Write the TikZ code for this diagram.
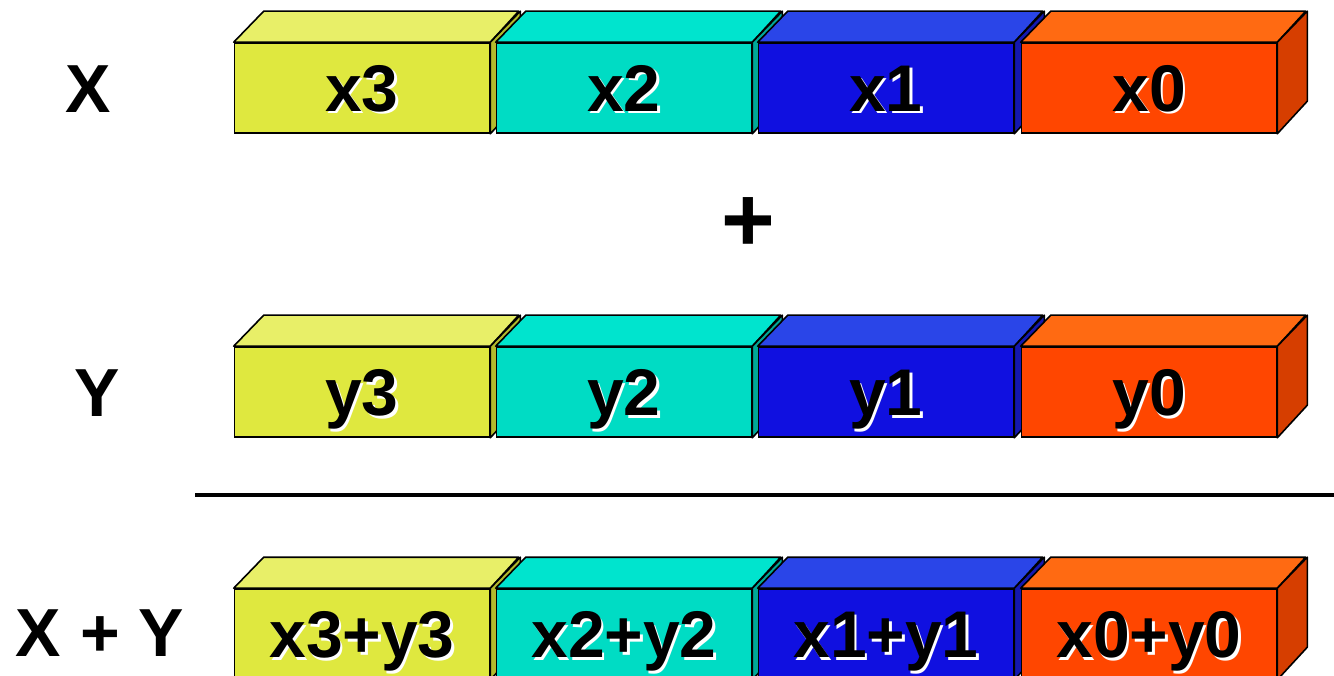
\documentclass[tikz,border=0pt]{standalone}
\usepackage{fontspec}
\setmainfont{Liberation Sans}
\usepackage{tikz}

% colours of the four lanes
\definecolor{yelfront}{HTML}{DFE83F}
\definecolor{yeltop}{HTML}{E8EF68}
\definecolor{yelside}{HTML}{B3BA2C}
\definecolor{cyafront}{HTML}{00DCC4}
\definecolor{cyatop}{HTML}{00E4CE}
\definecolor{cyaside}{HTML}{00A898}
\definecolor{blufront}{HTML}{1010E0}
\definecolor{blutop}{HTML}{2A45E8}
\definecolor{bluside}{HTML}{1418B0}
\definecolor{orafront}{HTML}{FF4600}
\definecolor{oratop}{HTML}{FF6A12}
\definecolor{oraside}{HTML}{D63E00}

% text with a small white shadow
\newcommand{\bittext}[1]{\rlap{\kern2.5pt\raisebox{-2.5pt}{\color{white}#1}}#1}

\begin{document}
\begin{tikzpicture}[x=1pt,y=-1pt]
    % Node styles
    \tikzset{cell/.style={draw=black,line width=1.6pt,minimum width=255pt,minimum height=90pt,
               inner sep=0pt,text height=47pt,text depth=0pt,
               font=\bfseries\fontsize{66}{66}\selectfont},
             face/.style={line width=1.6pt,line join=round,draw=black},
             rowlabel/.style={font=\bfseries\fontsize{68}{68}\selectfont,inner sep=0pt,
               text height=49pt,text depth=0pt}}
    \useasboundingbox (0,0) rectangle (1334,676);

    % --- Row X ---
    \node[rowlabel] (lx) at (88,88) {X};
    \node[cell, fill=yelfront] (x3) at (362,88) {\bittext{x3}};
    \filldraw[face, fill=yeltop] (x3.north west) -- ++(30,-31) -- ++(255,0) -- (x3.north east) -- cycle;
    \filldraw[face, fill=yelside] (x3.north east) -- ++(30,-31) -- ++(0,90) -- (x3.south east) -- cycle;
    \node[cell, fill=cyafront] (x2) at (624,88) {\bittext{x2}};
    \filldraw[face, fill=cyatop] (x2.north west) -- ++(30,-31) -- ++(255,0) -- (x2.north east) -- cycle;
    \filldraw[face, fill=cyaside] (x2.north east) -- ++(30,-31) -- ++(0,90) -- (x2.south east) -- cycle;
    \node[cell, fill=blufront] (x1) at (886,88) {\bittext{x1}};
    \filldraw[face, fill=blutop] (x1.north west) -- ++(30,-31) -- ++(255,0) -- (x1.north east) -- cycle;
    \filldraw[face, fill=bluside] (x1.north east) -- ++(30,-31) -- ++(0,90) -- (x1.south east) -- cycle;
    \node[cell, fill=orafront] (x0) at (1149,88) {\bittext{x0}};
    \filldraw[face, fill=oratop] (x0.north west) -- ++(30,-31) -- ++(255,0) -- (x0.north east) -- cycle;
    \filldraw[face, fill=oraside] (x0.north east) -- ++(30,-31) -- ++(0,90) -- (x0.south east) -- cycle;

    % --- Plus sign ---
    \node[font=\bfseries\fontsize{92}{92}\selectfont,inner sep=0pt] (plus) at (748,226) {\bittext{+}};

    % --- Row Y ---
    \node[rowlabel] (ly) at (97,392) {Y};
    \node[cell, fill=yelfront] (y3) at (362,392) {\bittext{y3}};
    \filldraw[face, fill=yeltop] (y3.north west) -- ++(30,-31) -- ++(255,0) -- (y3.north east) -- cycle;
    \filldraw[face, fill=yelside] (y3.north east) -- ++(30,-31) -- ++(0,90) -- (y3.south east) -- cycle;
    \node[cell, fill=cyafront] (y2) at (624,392) {\bittext{y2}};
    \filldraw[face, fill=cyatop] (y2.north west) -- ++(30,-31) -- ++(255,0) -- (y2.north east) -- cycle;
    \filldraw[face, fill=cyaside] (y2.north east) -- ++(30,-31) -- ++(0,90) -- (y2.south east) -- cycle;
    \node[cell, fill=blufront] (y1) at (886,392) {\bittext{y1}};
    \filldraw[face, fill=blutop] (y1.north west) -- ++(30,-31) -- ++(255,0) -- (y1.north east) -- cycle;
    \filldraw[face, fill=bluside] (y1.north east) -- ++(30,-31) -- ++(0,90) -- (y1.south east) -- cycle;
    \node[cell, fill=orafront] (y0) at (1149,392) {\bittext{y0}};
    \filldraw[face, fill=oratop] (y0.north west) -- ++(30,-31) -- ++(255,0) -- (y0.north east) -- cycle;
    \filldraw[face, fill=oraside] (y0.north east) -- ++(30,-31) -- ++(0,90) -- (y0.south east) -- cycle;

    % --- Sum line ---
    \coordinate (linel) at (195,495);
    \coordinate (liner) at (1340,495);
    \draw[line width=4pt] (linel) -- (liner);

    % --- Row X + Y ---
    \node[rowlabel] (lsum) at (100,632) {X + Y};
    \node[cell, fill=yelfront] (s3) at (362,634) {\bittext{x3+y3}};
    \filldraw[face, fill=yeltop] (s3.north west) -- ++(30,-31) -- ++(255,0) -- (s3.north east) -- cycle;
    \filldraw[face, fill=yelside] (s3.north east) -- ++(30,-31) -- ++(0,90) -- (s3.south east) -- cycle;
    \node[cell, fill=cyafront] (s2) at (624,634) {\bittext{x2+y2}};
    \filldraw[face, fill=cyatop] (s2.north west) -- ++(30,-31) -- ++(255,0) -- (s2.north east) -- cycle;
    \filldraw[face, fill=cyaside] (s2.north east) -- ++(30,-31) -- ++(0,90) -- (s2.south east) -- cycle;
    \node[cell, fill=blufront] (s1) at (886,634) {\bittext{x1+y1}};
    \filldraw[face, fill=blutop] (s1.north west) -- ++(30,-31) -- ++(255,0) -- (s1.north east) -- cycle;
    \filldraw[face, fill=bluside] (s1.north east) -- ++(30,-31) -- ++(0,90) -- (s1.south east) -- cycle;
    \node[cell, fill=orafront] (s0) at (1149,634) {\bittext{x0+y0}};
    \filldraw[face, fill=oratop] (s0.north west) -- ++(30,-31) -- ++(255,0) -- (s0.north east) -- cycle;
    \filldraw[face, fill=oraside] (s0.north east) -- ++(30,-31) -- ++(0,90) -- (s0.south east) -- cycle;

  \end{tikzpicture}
\end{document}
